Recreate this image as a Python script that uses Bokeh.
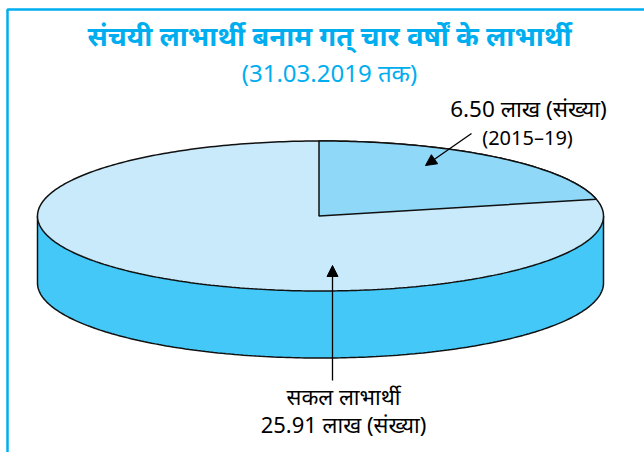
import numpy as np
from bokeh.plotting import figure
from bokeh.models import Range1d, Arrow, NormalHead
from bokeh.core.properties import value
from bokeh.embed import file_html
from bokeh.resources import INLINE

title_lines = ["संचयी लाभार्थी बनाम गत् चार वर्षों के लाभार्थी", "(31.03.2019 तक)"]
slice_labels = ["6.50 लाख (संख्या)", "(2015–19)"]
total_labels = ["सकल लाभार्थी", "25.91 लाख (संख्या)"]
slice_values = [6.50, 25.91]
# Angular share of the small slice as drawn in the picture (percent)
slice_share_pct = 21.4

CX, CY, RX, RY, DEPTH = 320.0, 215.5, 283.0, 75.0, 67.0
APEX_X = 318.5
FONT = value("Noto Sans")
BLUE = "#00AEEF"

p = figure(width=644, height=452, output_backend="svg", toolbar_location=None,
           x_range=Range1d(0, 644), y_range=Range1d(452, 0), min_border=0,
           x_axis_type=None, y_axis_type=None,
           styles={"position": "absolute", "left": "0px", "top": "0px"})
p.grid.visible = False
p.outline_line_color = None
p.background_fill_color = "white"

# frame
p.line([7, 7, 644], [452, 9, 9], line_color=BLUE, line_width=2.5)

# side wall
t = np.linspace(0, np.pi, 200)
wx = CX + RX * np.cos(t)
wy = CY + DEPTH + RY * np.sin(t)
p.patch(np.r_[CX + RX, wx, CX - RX], np.r_[CY, wy, CY], fill_color="#43C8F7", line_color="#111111", line_width=1.5)

# top: whole disc
t = np.linspace(0, 2 * np.pi, 400)
p.patch(CX + RX * np.cos(t), CY + RY * np.sin(t), fill_color="#C8EAFB", line_color="#111111", line_width=1.5)

# small slice, clockwise from 12 o'clock
a = np.linspace(0, 2 * np.pi * slice_share_pct / 100, 100)
p.patch(np.r_[APEX_X, APEX_X, CX + RX * np.sin(a)], np.r_[CY, CY - RY, CY - RY * np.cos(a)],
        fill_color="#8FD8F8", line_color="#111111", line_width=1.5)

# arrows
p.add_layout(Arrow(end=NormalHead(size=11, fill_color="black", line_color="black"),
                   x_start=471, y_start=133, x_end=425, y_end=165, line_width=1.3, line_color="black"))
p.add_layout(Arrow(end=NormalHead(size=11, fill_color="black", line_color="black"),
                   x_start=332, y_start=380, x_end=332, y_end=265, line_width=1.3, line_color="black"))

# text
p.text([329], [35], text=[title_lines[0]], text_font=FONT, text_font_size="27.5px", text_color=BLUE,
       text_align="center", text_baseline="middle", text_font_style="bold")
p.text([329], [72], text=[title_lines[1]], text_font=FONT, text_font_size="24px", text_color=BLUE,
       text_align="center", text_baseline="middle")
p.text([528], [108], text=[slice_labels[0]], text_font=FONT, text_font_size="22.5px", text_color="black",
       text_align="center", text_baseline="middle")
p.text([527], [137], text=[slice_labels[1]], text_font=FONT, text_font_size="20px", text_color="black",
       text_align="center", text_baseline="middle")
p.text([343, 343], [395, 423], text=total_labels, text_font=FONT, text_font_size="22px", text_color="black",
       text_align="center", text_baseline="middle")

open("out.html", "w").write(file_html(p, INLINE))
